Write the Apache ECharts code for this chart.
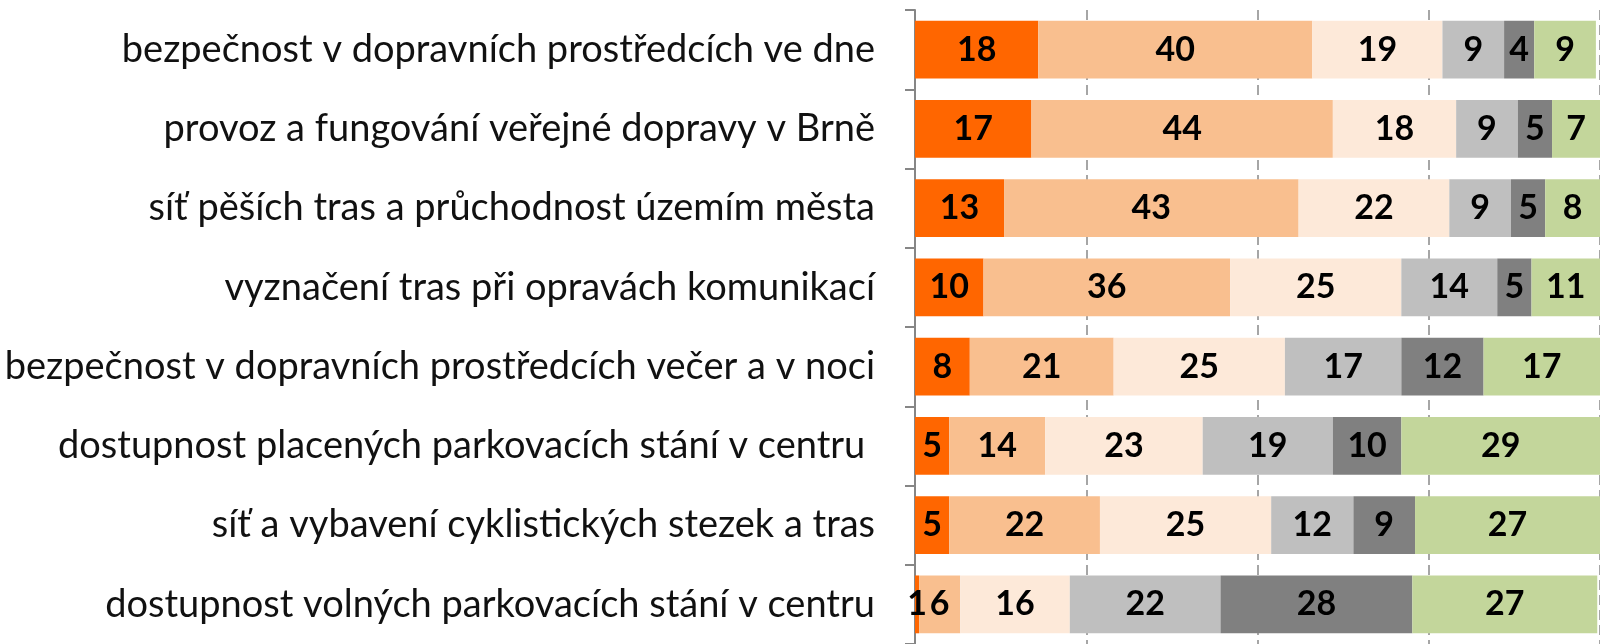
<!DOCTYPE html>
<html>
<head>
<meta charset="utf-8">
<script src="https://cdn.jsdelivr.net/npm/echarts@6/dist/echarts.min.js"></script>
<style>
html,body{margin:0;padding:0;background:#fff;}
#chart{width:1600px;height:644px;}
</style>
</head>
<body>
<div id="chart"></div>
<script>
const categories = [
  "bezpečnost v dopravních prostředcích ve dne",
  "provoz a fungování veřejné dopravy v Brně",
  "síť pěších tras a průchodnost územím města",
  "vyznačení tras při opravách komunikací",
  "bezpečnost v dopravních prostředcích večer a v noci",
  "dostupnost placených parkovacích stání v centru ",
  "síť a vybavení cyklistických stezek a tras",
  "dostupnost volných parkovacích stání v centru"
];
const s1 = [18, 17, 13, 10, 8, 5, 5, 0.6];
const s2 = [40, 44, 43, 36, 21, 14, 22, 6];
const s3 = [19, 18, 22, 25, 25, 23, 25, 16];
const s4 = [9, 9, 9, 14, 17, 19, 12, 22];
const s5 = [4.4, 5, 5, 5, 12, 10, 9, 28];
const s6 = [9, 7, 8, 11, 17, 29, 27, 27];
const seriesNames = ["1", "2", "3", "4", "5", "6"];
const seriesData = [s1, s2, s3, s4, s5, s6];
const colors = ["#FF6600", "#F9BF8F", "#FDE9D9", "#BFBFBF", "#808080", "#C3D69B"];

const chart = echarts.init(document.getElementById('chart'));
chart.setOption({
  animation: false,
  grid: {left: 915, right: -2, top: 10, bottom: -2, containLabel: false},
  xAxis: {
    type: 'value', min: 0, max: 100, interval: 25,
    axisLabel: {show: false}, axisLine: {show: false}, axisTick: {show: false},
    splitLine: {show: true, lineStyle: {color: '#A6A6A6', width: 2, type: [10, 5]}}
  },
  yAxis: {
    type: 'category', data: categories, inverse: true,
    axisLine: {show: true, lineStyle: {color: '#868686', width: 2}},
    axisTick: {show: true, length: 10, lineStyle: {color: '#868686', width: 2}},
    axisLabel: {fontFamily: 'Lato', fontSize: 38, color: '#111', margin: 40}
  },
  series: seriesData.map((d, i) => ({
    name: seriesNames[i], type: 'bar', stack: 'a', data: d,
    barCategoryGap: '27%',
    itemStyle: {color: colors[i]},
    label: {show: true, position: 'inside', color: '#000', fontFamily: 'Lato', fontWeight: 'bold', fontSize: 34,
      formatter: p => Math.round(p.value)}
  }))
});
</script>
</body>
</html>
